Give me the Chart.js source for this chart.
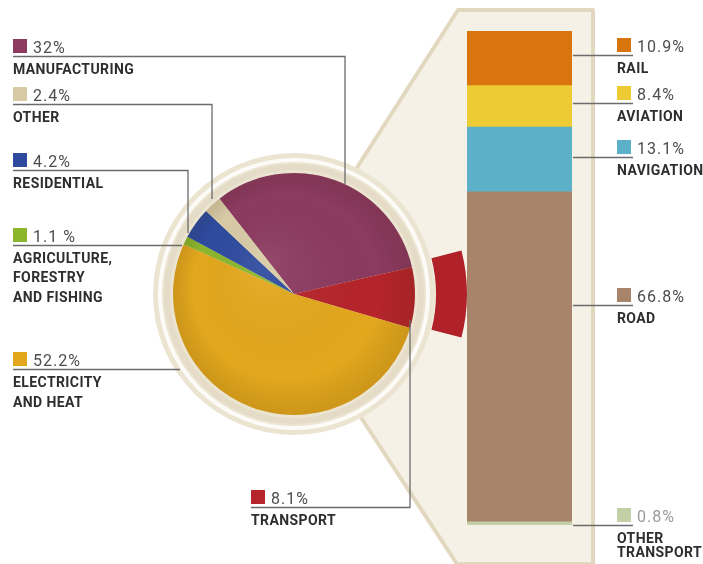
<!DOCTYPE html>
<html>
<head>
<meta charset="utf-8">
<script src="https://cdn.jsdelivr.net/npm/chart.js@4.4.1/dist/chart.umd.min.js"></script>
<style>
  html, body { margin: 0; padding: 0; background: #fff; }
  #stage { position: relative; width: 703px; height: 564px; overflow: hidden; font-family: Roboto, "Liberation Sans", sans-serif; }
  #stage canvas, #stage svg { position: absolute; }
  .sq { position: absolute; width: 14px; height: 14px; }
  .pct { position: absolute; font-size: 16px; line-height: 16px; color: #4d4d4d; letter-spacing: 1px; white-space: nowrap; }
  .cap { position: absolute; font-size: 14px; line-height: 14px; font-weight: 700; color: #2e2e2e; letter-spacing: 0.4px; white-space: nowrap; }
</style>
</head>
<body>
<div id="stage">
  <svg id="panel" width="703" height="564" style="left:0;top:0">
    <polygon points="296,296 358,166 458,10 593,10 593,564 457,564 360,416"
             fill="#f5f1e6" stroke="#e2d8bf" stroke-width="4" stroke-linejoin="round"/>
  </svg>
  <canvas id="pie" width="346" height="346" style="left:121px;top:121px"></canvas>
  <canvas id="bar" width="105" height="494" style="left:467px;top:31px"></canvas>
  <svg id="leaders" width="703" height="564" style="left:0;top:0"></svg>
</div>

<script>
// share of CO2 emissions by sector (%)
var sectors = ["Manufacturing", "Transport", "Electricity and heat", "Agriculture, forestry and fishing", "Residential", "Other"];
var sectorShares = [32, 8.1, 52.2, 1.1, 4.2, 2.4];
var sectorColors = ["#8c3a60", "#b5252b", "#e2a71d", "#8ab52c", "#2f4b9e", "#d8caa5"];

// breakdown of transport (%)
var modes = ["Rail", "Aviation", "Navigation", "Road", "Other transport"];
var modeShares = [10.9, 8.4, 13.1, 66.8, 0.8];
var modeColors = ["#d9750f", "#eccb35", "#5cb0c8", "#a8846a", "#c3cfa6"];

// label text
var sectorCaptions = [["MANUFACTURING"], ["TRANSPORT"], ["ELECTRICITY", "AND HEAT"],
  ["AGRICULTURE,", "FORESTRY", "AND FISHING"], ["RESIDENTIAL"], ["OTHER"]];
var sectorPctText = ["32%", "8.1%", "52.2%", "1.1 %", "4.2%", "2.4%"];
var modeCaptions = [["RAIL"], ["AVIATION"], ["NAVIGATION"], ["ROAD"], ["OTHER", "TRANSPORT"]];
var modePctText = ["10.9%", "8.4%", "13.1%", "66.8%", "0.8%"];

var transportIdx = sectors.indexOf("Transport");

// ring behind the pie + a little shading on top of it
var ringPlugin = {
  id: "ring",
  beforeDatasetsDraw: function(chart) {
    var ctx = chart.ctx;
    var meta = chart.getDatasetMeta(2);
    var arc = meta.data[0];
    var cx = arc.x, cy = arc.y, r = arc.outerRadius;
    ctx.save();
    ctx.beginPath();
    ctx.arc(cx, cy, r + 20, 0, Math.PI * 2);
    ctx.fillStyle = "#ebe4d1";
    ctx.fill();
    ctx.beginPath();
    ctx.arc(cx, cy, r + 13, 0, Math.PI * 2);
    ctx.strokeStyle = "rgba(255,255,255,0.85)";
    ctx.lineWidth = 4;
    ctx.stroke();
    ctx.beginPath();
    ctx.arc(cx, cy, r + 6, 0, Math.PI * 2);
    ctx.strokeStyle = "#e4dcc6";
    ctx.lineWidth = 6;
    ctx.stroke();
    ctx.restore();
  },
  afterDatasetsDraw: function(chart) {
    var ctx = chart.ctx;
    var arc = chart.getDatasetMeta(2).data[0];
    var g = ctx.createRadialGradient(arc.x - 30, arc.y - 30, 10, arc.x, arc.y, arc.outerRadius);
    g.addColorStop(0, "rgba(255,255,255,0.06)");
    g.addColorStop(0.75, "rgba(0,0,0,0)");
    g.addColorStop(1, "rgba(60,30,0,0.12)");
    ctx.save();
    ctx.beginPath();
    ctx.arc(arc.x, arc.y, arc.outerRadius, 0, Math.PI * 2);
    ctx.fillStyle = g;
    ctx.fill();
    ctx.restore();
  }
};

// start angle so the slices sit as in the picture
var pieRotation = -38;
var transportCenter = 90; // the pulled-out transport band points right
var bandData = [sectorShares[transportIdx], 100 - sectorShares[transportIdx]];

new Chart(document.getElementById("pie"), {
  type: "doughnut",
  data: {
    labels: sectors,
    datasets: [
      {
        data: bandData,
        backgroundColor: ["#b02228", "rgba(0,0,0,0)"],
        borderWidth: 0,
        weight: 31,
        rotation: transportCenter - sectorShares[transportIdx] * 3.6 / 2
      },
      {
        data: [100],
        backgroundColor: ["rgba(0,0,0,0)"],
        borderWidth: 0,
        weight: 21
      },
      {
        data: sectorShares,
        backgroundColor: sectorColors,
        borderWidth: 0,
        weight: 121,
        rotation: pieRotation
      }
    ]
  },
  options: {
    responsive: false,
    animation: false,
    events: [],
    cutout: 0,
    layout: { padding: 0 },
    plugins: { legend: { display: false }, tooltip: { enabled: false } }
  },
  plugins: [ringPlugin]
});

new Chart(document.getElementById("bar"), {
  type: "bar",
  data: {
    labels: ["Transport"],
    datasets: modes.map(function(m, i) {
      return {
        label: m,
        data: [modeShares[i]],
        backgroundColor: modeColors[i],
        borderWidth: 0,
        barPercentage: 1,
        categoryPercentage: 1
      };
    })
  },
  options: {
    responsive: false,
    animation: false,
    events: [],
    layout: { padding: 0 },
    scales: {
      x: { stacked: true, display: false },
      y: { stacked: true, display: false, reverse: true, min: 0, max: 100 }
    },
    plugins: { legend: { display: false }, tooltip: { enabled: false } }
  }
});

// labels and leader lines
var stage = document.getElementById("stage");
var leaders = document.getElementById("leaders");

function addLine(pts) {
  var pl = document.createElementNS("http://www.w3.org/2000/svg", "polyline");
  pl.setAttribute("points", pts.map(function(p) { return p.join(","); }).join(" "));
  pl.setAttribute("fill", "none");
  pl.setAttribute("stroke", "#6b6b6b");
  pl.setAttribute("stroke-width", "1.3");
  leaders.appendChild(pl);
}

function addLabel(x, y, color, pct, lines, gap, pctColor) {
  var sq = document.createElement("div");
  sq.className = "sq";
  sq.style.left = x + "px";
  sq.style.top = y + "px";
  sq.style.background = color;
  stage.appendChild(sq);

  var p = document.createElement("div");
  p.className = "pct";
  p.textContent = pct;
  p.style.left = (x + 20) + "px";
  p.style.top = (y + 14 - 13.4) + "px";
  if (pctColor) p.style.color = pctColor;
  stage.appendChild(p);

  lines.forEach(function(t, i) {
    var c = document.createElement("div");
    c.className = "cap";
    c.textContent = t;
    c.style.left = x + "px";
    c.style.top = (y + 24 - 1.2 + i * gap) + "px";
    stage.appendChild(c);
  });
}

// left side: square position and leader path
var sectorLayout = [
  { i: 0, x: 13, y: 39, gap: 20, path: function(ly) { return [[13, ly], [345, ly], [345, 184]]; } },
  { i: 5, x: 13, y: 87, gap: 20, path: function(ly) { return [[13, ly], [212, ly], [212, 199]]; } },
  { i: 4, x: 13, y: 153, gap: 20, path: function(ly) { return [[13, ly], [188, ly], [188, 233]]; } },
  { i: 3, x: 13, y: 228, gap: 19.5, path: function(ly) { return [[13, ly], [182, ly]]; } },
  { i: 2, x: 13, y: 352, gap: 20, path: function(ly) { return [[13, ly], [180, ly]]; } },
  { i: 1, x: 251, y: 490, gap: 20, path: function(ly) { return [[251, ly], [410, ly], [410, 320]]; } }
];

sectorLayout.forEach(function(L) {
  var ly = L.y + 17.5;
  addLine(L.path(ly));
  addLabel(L.x, L.y, sectorColors[L.i], sectorPctText[L.i], sectorCaptions[L.i], L.gap);
});

var modeLayout = [38, 86, 140, 288, 508];
modeLayout.forEach(function(y, i) {
  var ly = y + 17.5;
  addLine([[573, ly], [633, ly]]);
  addLabel(617, y, modeColors[i], modePctText[i], modeCaptions[i], 14, i === 4 ? "#9a9a9a" : null);
});
</script>
</body>
</html>
